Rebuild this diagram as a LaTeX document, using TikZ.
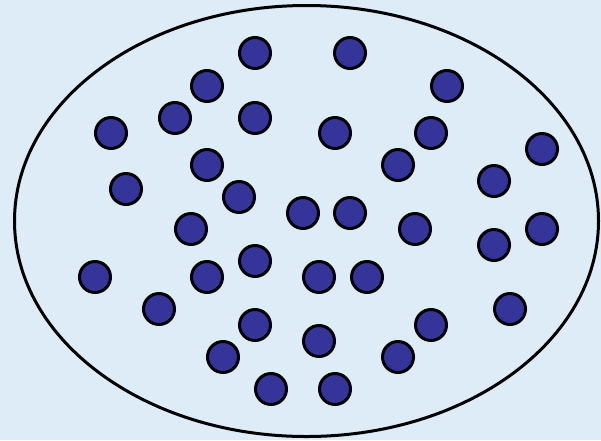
\documentclass[tikz,border=0pt]{standalone}
\definecolor{bgblue}{RGB}{222,236,248}
\definecolor{dotblue}{RGB}{53,53,153}
\tikzset{
  dot/.style={circle, draw=black, line width=3pt, fill=dotblue, minimum size=31pt, inner sep=0pt},
  setline/.style={draw=black, line width=3pt}
}
\begin{document}
\begin{tikzpicture}[x=1pt,y=-1pt]
\fill[bgblue] (0,0) rectangle (601,440);
\useasboundingbox (0,0) rectangle (601,440);
\draw[setline] (306.5,221) ellipse [x radius=292, y radius=215.5];
\foreach \n/\x/\y in {
 1/255/53, 2/350/53, 3/207/86, 4/447/86, 5/111/133, 6/175/118, 7/255/118,
 8/335/133, 9/431/133, 10/542/149, 11/207/165, 12/398/165, 13/126/189,
 14/239/197, 15/494/181, 16/303/213, 17/350/213, 18/191/229, 19/415/229,
 20/542/229, 21/494/245, 22/255/261, 23/95/277, 24/207/277, 25/319/277,
 26/367/277, 27/159/309, 28/510/309, 29/255/325, 30/431/325, 31/223/357,
 32/319/341, 33/398/357, 34/271/389, 35/335/389}
 \node[dot] (d\n) at (\x,\y) {};
\end{tikzpicture}
\end{document}
